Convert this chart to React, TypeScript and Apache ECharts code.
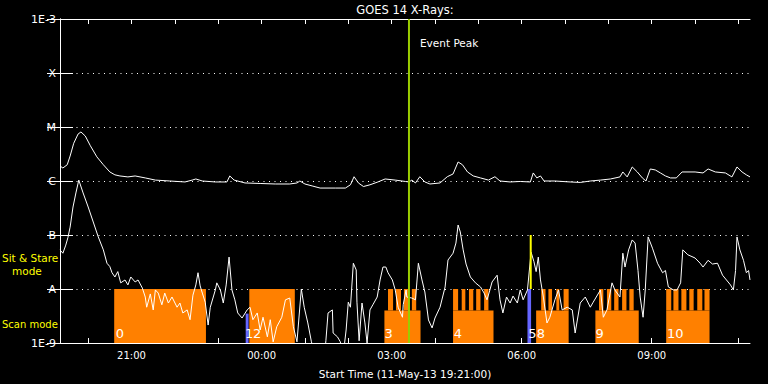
import React, { useEffect, useRef } from 'react';
import * as echarts from 'echarts';

// Time is given in minutes since the start time (11-May-13 19:21:00)
const START_TEXT = '11-May-13 19:21:00';
const START_MINUTE_OF_DAY = 19 * 60 + 21;
const X_MAX = 955;

const hourTickTimes = ['20:00', '21:00', '22:00', '23:00', '00:00', '01:00', '02:00', '03:00', '04:00', '05:00', '06:00', '07:00', '08:00', '09:00', '10:00', '11:00'];
const hourLabelTimes = ['21:00', '00:00', '03:00', '06:00', '09:00'];

// decade exponent -> label
const yTickExponents = [-9, -8, -7, -6, -5, -4, -3];
const yTickLabels = ['1E-9', 'A', 'B', 'C', 'M', 'X', '1E-3'];

// GOES long channel (1-8 A)
const longChannel: [number, number][] = [
  [0, 1.9e-6], [4, 1.74e-6], [10, 2.0e-6], [14, 2.9e-6], [19, 5.0e-6], [25, 7.4e-6], [29, 8.1e-6], [35, 6.8e-6],
  [42, 4.5e-6], [51, 2.8e-6], [60, 2.0e-6], [69, 1.47e-6], [76, 1.3e-6], [83, 1.24e-6], [94, 1.19e-6], [104, 1.24e-6],
  [118, 1.14e-6], [132, 1.04e-6], [152, 1.0e-6], [173, 0.96e-6], [183, 1.04e-6], [188, 1.09e-6], [197, 1.0e-6],
  [215, 0.96e-6], [231, 0.96e-6], [235, 1.24e-6], [241, 1.04e-6], [256, 0.92e-6], [277, 0.9e-6], [298, 0.88e-6],
  [318, 0.88e-6], [328, 0.92e-6], [332, 1.0e-6], [339, 0.88e-6], [349, 0.81e-6], [360, 0.74e-6], [381, 0.74e-6],
  [395, 0.74e-6], [402, 0.85e-6], [407, 1.2e-6], [413, 0.92e-6], [420, 0.79e-6], [429, 0.85e-6], [440, 0.96e-6],
  [450, 1.09e-6], [464, 1.04e-6], [478, 0.98e-6], [483, 0.96e-6], [487, 1.04e-6], [492, 0.92e-6], [498, 1.2e-6],
  [505, 0.96e-6], [512, 0.88e-6], [526, 0.92e-6], [536, 1.2e-6], [544, 1.35e-6], [551, 2.25e-6], [557, 2.0e-6],
  [564, 1.47e-6], [572, 1.24e-6], [582, 1.14e-6], [593, 1.04e-6], [602, 1.2e-6], [609, 1.0e-6], [623, 0.96e-6],
  [637, 0.98e-6], [651, 0.96e-6], [655, 1.41e-6], [660, 1.14e-6], [665, 1.24e-6], [670, 1.0e-6], [685, 1.0e-6],
  [706, 0.96e-6], [720, 0.94e-6], [734, 1.0e-6], [748, 1.04e-6], [762, 1.09e-6], [775, 1.19e-6], [779, 1.47e-6],
  [785, 1.19e-6], [792, 1.82e-6], [799, 1.47e-6], [806, 1.14e-6], [811, 1.0e-6], [817, 1.67e-6], [824, 1.6e-6],
  [831, 1.41e-6], [838, 1.24e-6], [845, 1.14e-6], [853, 1.14e-6], [861, 1.47e-6], [879, 1.47e-6], [890, 1.41e-6],
  [897, 1.67e-6], [907, 1.47e-6], [921, 1.41e-6], [930, 1.19e-6], [937, 1.82e-6], [944, 1.47e-6], [950, 1.3e-6],
  [955, 1.19e-6],
];

// GOES short channel (0.5-4 A)
const shortChannel: [number, number][] = [
  [0, 5.3e-8], [4, 4.6e-8], [8, 6.5e-8], [11, 9.0e-8], [14, 1.4e-7], [18, 3.3e-7], [22, 6.0e-7], [26, 1.04e-6],
  [32, 6.0e-7], [39, 3.3e-7], [46, 1.74e-7], [53, 9.2e-8], [60, 5.3e-8], [65, 3.0e-8], [69, 2.6e-8], [72, 2.0e-8],
  [76, 1.67e-8], [80, 2.1e-8], [84, 1.3e-8], [90, 1.47e-8], [94, 1.19e-8], [98, 1.67e-8], [104, 1.35e-8], [108, 1.47e-8],
  [114, 1.04e-8], [118, 7.1e-9], [120, 4.6e-9], [125, 8.1e-9], [129, 4.1e-9], [132, 9.6e-9], [136, 8.4e-9], [141, 5.1e-9],
  [145, 8.4e-9], [150, 5.5e-9], [155, 7.1e-9], [162, 4.6e-9], [166, 5.5e-9], [170, 3.6e-9], [176, 4.1e-9], [180, 2.7e-9],
  [184, 7.7e-9], [188, 1.19e-8], [191, 2.0e-8], [194, 1.14e-8], [197, 8.4e-9], [201, 5.7e-9], [205, 2.15e-9], [208, 4.6e-9],
  [215, 9.6e-9], [217, 1.3e-8], [222, 9.6e-9], [226, 5.5e-9], [230, 1.19e-8], [234, 3.9e-8], [238, 9.6e-9], [242, 6.3e-9],
  [246, 3.6e-9], [252, 2.9e-9], [259, 4.1e-9], [263, 4.6e-9], [267, 2.7e-9], [273, 3.6e-9], [277, 1.74e-9], [281, 3.0e-9],
  [287, 1.3e-9], [291, 2.7e-9], [295, 1.05e-9], [300, 2.0e-9], [307, 3.0e-9], [312, 6.3e-9], [318, 6.8e-9], [323, 2.0e-9],
  [328, 1.05e-9], [334, 1.0e-8], [338, 4.6e-9], [343, 2.35e-9], [348, 1.05e-9], [353, 6e-10], [357, 6e-10], [366, 6e-10],
  [368, 1.1e-9], [371, 3.6e-9], [377, 4.1e-9], [378, 1.53e-9], [384, 1.3e-9], [388, 1.05e-9], [392, 6e-10], [396, 1.74e-9],
  [399, 5.7e-9], [402, 4.6e-9], [406, 3.0e-8], [410, 2.25e-8], [411, 5.7e-9], [414, 1.1e-9], [418, 5.5e-9], [422, 2.35e-9],
  [425, 1.0e-9], [429, 4.1e-9], [433, 5.1e-9], [439, 7.1e-9], [443, 1.47e-8], [447, 2.55e-8], [451, 2.55e-8], [454, 2.0e-8],
  [460, 1.47e-8], [464, 9.6e-9], [468, 4.6e-9], [474, 3.0e-9], [475, 5.1e-9], [479, 9.6e-9], [480, 7.1e-9], [487, 6.8e-9],
  [492, 6.3e-9], [496, 3.0e-8], [501, 1.47e-8], [505, 8.8e-9], [510, 2.67e-9], [515, 1.9e-9], [519, 2.9e-9], [526, 4.6e-9],
  [533, 1.09e-8], [537, 3.44e-8], [544, 4.6e-8], [548, 7.1e-8], [551, 1.53e-7], [554, 1.14e-7], [558, 5.3e-8], [562, 2.9e-8],
  [568, 1.67e-8], [575, 1.3e-8], [582, 1.09e-8], [587, 8.4e-9], [591, 6.3e-9], [595, 9.6e-9], [598, 1.35e-8], [605, 1.8e-8],
  [609, 6.3e-9], [613, 3.6e-9], [618, 7.1e-9], [623, 5.5e-9], [627, 7.4e-9], [633, 5.5e-9], [637, 9.6e-9], [641, 6.3e-9],
  [647, 9.6e-9], [652, 4.8e-8], [656, 3.2e-8], [659, 2.1e-8], [662, 3.9e-8], [665, 1.47e-8], [669, 7.1e-9], [674, 2.35e-9],
  [678, 3.0e-9], [685, 6.3e-9], [690, 9.6e-9], [695, 4.1e-9], [702, 4.6e-9], [709, 4.1e-9], [713, 1.53e-9], [720, 5.5e-9],
  [727, 7.1e-9], [734, 4.6e-9], [738, 5.7e-9], [748, 9.6e-9], [752, 3.0e-9], [757, 4.1e-9], [764, 1.3e-8], [768, 9.6e-9],
  [775, 7.1e-9], [779, 4.6e-8], [782, 2.55e-8], [787, 5.3e-8], [792, 8.1e-8], [796, 7.1e-8], [800, 2.2e-8], [803, 7.1e-9],
  [807, 3.0e-9], [810, 9.6e-9], [814, 9.2e-8], [820, 5.7e-8], [827, 3.0e-8], [834, 2.0e-8], [838, 2.2e-8], [842, 1.09e-8],
  [849, 9.6e-9], [854, 9.6e-9], [859, 1.3e-8], [862, 5.3e-8], [869, 4.3e-8], [879, 3.75e-8], [886, 3.0e-8], [890, 2.55e-8],
  [897, 3.4e-8], [903, 2.9e-8], [910, 3.0e-8], [917, 1.8e-8], [928, 1.19e-8], [932, 9.6e-9], [935, 2.2e-8], [937, 9.2e-8],
  [941, 5.3e-8], [946, 3.4e-8], [950, 2.0e-8], [953, 2.2e-8], [955, 1.47e-8],
];

// Scan-mode blocks [start, end] in minutes since start
const fullScanBlocks: [number, number][] = [[75, 202], [262, 325]];            // A .. 1E-9
const lowerScanBlocks: [number, number][] = [[449, 499], [544, 600], [659, 704], [741, 801], [839, 899]]; // 4E-9 .. 1E-9
const scanTeeth: [number, number][] = [                                       // A .. 4E-9
  [454, 461], [465, 472], [476, 483], [487, 493],
  [544, 551], [556, 561], [566, 572], [576, 582], [587, 593],
  [666, 672], [676, 681], [687, 691], [697, 704],
  [746, 752], [757, 763], [767, 773], [778, 784], [788, 794],
  [839, 846], [849, 856], [860, 867], [871, 877], [882, 889], [892, 899],
];
const LOWER_TOP = 4e-9;
const sitStareBars: [number, number, number][] = [[257, 261, 3.5e-9], [647, 652, 1e-8]];

const blockLabelTimes = [77, 256, 267, 449, 545, 648, 660, 741, 840];
const blockLabelTexts = ['0', '1', '2', '3', '4', '5', '8', '9', '10'];

const eventPeakTime = 483;
const marker2Time = 651.5;
const marker2Range: [number, number] = [1e-8, 1e-7];

const FONT = 'DejaVu Sans';

function timeToMinutes(t: string): number {
  const [h, m] = t.split(':').map(Number);
  let v = h * 60 + m - START_MINUTE_OF_DAY;
  if (v < 0) v += 1440;
  return v;
}

function minutesToTime(v: number): string {
  const t = (START_MINUTE_OF_DAY + Math.round(v)) % 1440;
  const hh = Math.floor(t / 60);
  const mm = t % 60;
  return String(hh).padStart(2, '0') + ':' + String(mm).padStart(2, '0');
}

export default function App() {
  const ref = useRef<HTMLDivElement>(null);

  useEffect(() => {
    if (!ref.current) return;
    const chart = echarts.init(ref.current, undefined, { renderer: 'svg' });

    const colors = ['#ff8000', '#6666ff'];
    const rects: number[][] = [];
    fullScanBlocks.forEach(([a, b]) => rects.push([a, b, 1e-8, 1e-9, 0]));
    lowerScanBlocks.forEach(([a, b]) => rects.push([a, b, LOWER_TOP, 1e-9, 0]));
    scanTeeth.forEach(([a, b]) => rects.push([a, b, 1e-8, LOWER_TOP, 0]));
    sitStareBars.forEach(([a, b, top]) => rects.push([a, b, top, 1e-9, 1]));

    const yLabelMap: Record<number, string> = {};
    yTickExponents.forEach((e, i) => (yLabelMap[e] = yTickLabels[i]));

    const hourTicks = hourTickTimes.map(timeToMinutes);
    const hourLabels = hourLabelTimes.map(timeToMinutes);

    const axisLineStyle = { color: '#ffffff', width: 1 };

    const option: any = {
      animation: false,
      backgroundColor: '#000000',
      grid: { left: 60, right: 18, top: 19, bottom: 41, outerBoundsMode: 'none' },
      graphic: [
        { type: 'text', x: 405, y: 10, style: { text: 'GOES 14 X-Rays:', fill: '#ffffff', font: `11.5px "${FONT}"`, align: 'center', verticalAlign: 'middle' } },
        { type: 'text', x: 2, y: 258, style: { text: 'Sit & Stare', fill: '#ffff00', font: `10.5px "${FONT}"`, align: 'left', verticalAlign: 'middle' } },
        { type: 'text', x: 12, y: 271, style: { text: 'mode', fill: '#ffff00', font: `10.5px "${FONT}"`, align: 'left', verticalAlign: 'middle' } },
        { type: 'text', x: 2, y: 324, style: { text: 'Scan mode', fill: '#ffff00', font: `10px "${FONT}"`, align: 'left', verticalAlign: 'middle' } },
      ],
      xAxis: [
        {
          type: 'value', position: 'bottom', min: 0, max: X_MAX,
          axisLine: { show: true, onZero: false, lineStyle: axisLineStyle },
          axisTick: { show: true, inside: true, length: 5, customValues: hourTicks, lineStyle: axisLineStyle },
          axisLabel: { show: true, customValues: hourLabels, formatter: (v: number) => minutesToTime(v), color: '#ffffff', fontFamily: FONT, fontSize: 10, margin: 7 },
          splitLine: { show: false },
          name: 'Start Time (' + START_TEXT + ')', nameLocation: 'middle', nameGap: 25,
          nameTextStyle: { color: '#ffffff', fontFamily: FONT, fontSize: 10.5 },
        },
        {
          type: 'value', position: 'top', min: 0, max: X_MAX,
          axisLine: { show: true, onZero: false, lineStyle: axisLineStyle },
          axisTick: { show: true, inside: true, length: 5, customValues: hourTicks, lineStyle: axisLineStyle },
          axisLabel: { show: false },
          splitLine: { show: false },
        },
      ],
      yAxis: [
        {
          type: 'log', logBase: 10, min: 1e-9, max: 1e-3, position: 'left',
          axisLine: { show: true, lineStyle: axisLineStyle },
          axisTick: { show: true, inside: true, length: 13, lineStyle: axisLineStyle },
          axisLabel: {
            show: true, color: '#ffffff', fontFamily: FONT, fontSize: 11, margin: 4,
            formatter: (v: number) => yLabelMap[Math.round(Math.log10(v))] ?? '',
          },
          splitLine: { show: true, lineStyle: { color: '#ffffff', width: 1, type: [1, 4.5] } },
        },
        {
          type: 'log', logBase: 10, min: 1e-9, max: 1e-3, position: 'right',
          axisLine: { show: true, lineStyle: axisLineStyle },
          axisTick: { show: true, inside: true, length: 13, lineStyle: axisLineStyle },
          axisLabel: { show: false },
          splitLine: { show: false },
        },
      ],
      series: [
        {
          type: 'custom', name: 'modes', xAxisIndex: 0, yAxisIndex: 0, z: 2,
          encode: { x: [0, 1], y: [2, 3] },
          data: rects,
          renderItem: (params: any, api: any) => {
            const p0 = api.coord([api.value(0), api.value(2)]);
            const p1 = api.coord([api.value(1), api.value(3)]);
            return {
              type: 'rect',
              shape: { x: p0[0], y: p0[1], width: p1[0] - p0[0], height: p1[1] - p0[1] },
              style: { fill: colors[api.value(4)] },
            };
          },
        },
        {
          type: 'line', name: 'long', xAxisIndex: 0, yAxisIndex: 0, z: 3,
          data: longChannel, symbol: 'none', showSymbol: false, clip: true,
          lineStyle: { color: '#ffffff', width: 1 },
        },
        {
          type: 'line', name: 'short', xAxisIndex: 0, yAxisIndex: 0, z: 3,
          data: shortChannel, symbol: 'none', showSymbol: false, clip: true,
          lineStyle: { color: '#ffffff', width: 1 },
        },
        {
          type: 'custom', name: 'labels', xAxisIndex: 0, yAxisIndex: 0, z: 4,
          encode: { x: 0, y: 1 },
          data: blockLabelTimes.map((t) => [t, 1e-9]),
          renderItem: (params: any, api: any) => {
            const p = api.coord([api.value(0), api.value(1)]);
            return {
              type: 'text',
              x: p[0], y: p[1] - 10,
              style: { text: blockLabelTexts[params.dataIndex], fill: '#ffffff', font: `13px "${FONT}"`, align: 'left', verticalAlign: 'middle' },
            };
          },
        },
        {
          type: 'custom', name: 'markers', xAxisIndex: 0, yAxisIndex: 0, z: 5,
          encode: { x: 0, y: [1, 2] },
          data: [[eventPeakTime, 1e-9, 1e-3, 0], [marker2Time, marker2Range[0], marker2Range[1], 1]],
          renderItem: (params: any, api: any) => {
            const a = api.coord([api.value(0), api.value(1)]);
            const b = api.coord([api.value(0), api.value(2)]);
            const kind = api.value(3);
            const line = {
              type: 'line',
              shape: { x1: a[0], y1: a[1], x2: b[0], y2: b[1] },
              style: { stroke: kind === 0 ? '#9acd00' : '#ffff00', lineWidth: 2 },
            };
            if (kind !== 0) return line;
            return {
              type: 'group',
              children: [
                line,
                { type: 'text', x: b[0] + 11, y: b[1] + 24, style: { text: 'Event Peak', fill: '#ffffff', font: `10.5px "${FONT}"`, align: 'left', verticalAlign: 'middle' } },
              ],
            };
          },
        },
      ],
    };

    chart.setOption(option);
    return () => chart.dispose();
  }, []);

  return <div ref={ref} style={{ position: 'fixed', left: 0, top: 0, width: 768, height: 384, background: '#000' }} />;
}
